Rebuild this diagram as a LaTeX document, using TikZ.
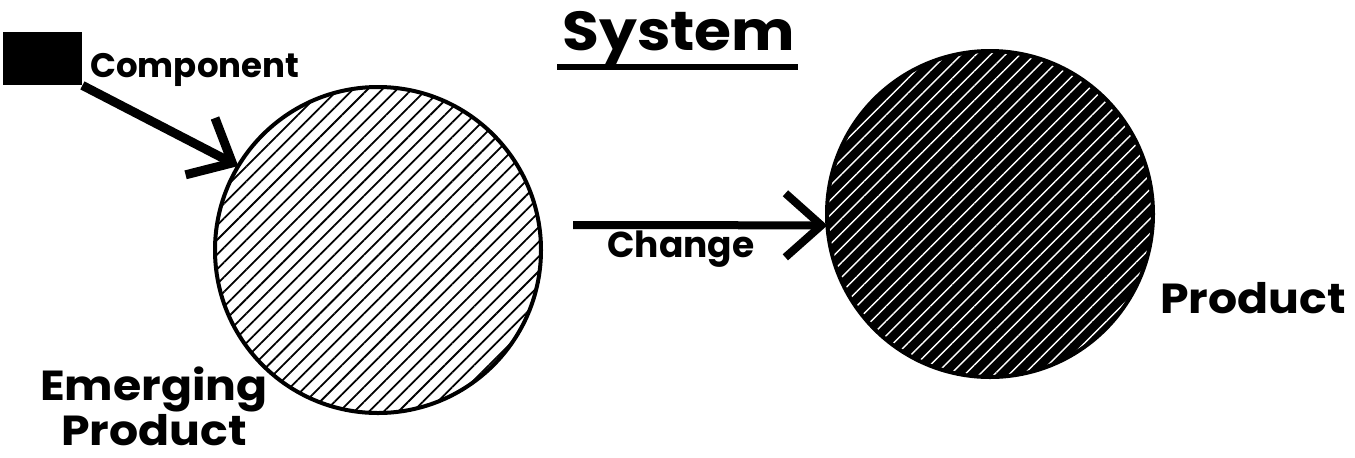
\documentclass[tikz,border=0pt]{standalone}
\usepackage{fontspec}
\setmainfont{Poppins}
\newfontfamily\widefont[FakeStretch=1.09]{Poppins}
\usetikzlibrary{arrows.meta}
\usetikzlibrary{patterns.meta}
\tikzset{>={Straight Barb[length=18pt,width=32pt]}}
\tikzset{
  hatchwhite/.style={circle, draw=black, line width=2pt, minimum size=163pt,
    inner sep=0pt, outer sep=0pt,
    pattern={Lines[angle=45,distance=5.2pt,line width=0.9pt]}, pattern color=black},
  hatchblack/.style={circle, draw=black, line width=2pt, minimum size=163pt,
    inner sep=0pt, outer sep=0pt, preaction={fill=black},
    pattern={Lines[angle=45,distance=5.2pt,line width=0.7pt]}, pattern color=white},
  label/.style={font=\bfseries, inner sep=0pt},
  biglabel/.style={inner sep=0pt, font=\widefont\bfseries\fontsize{21}{22.5}\selectfont},
  thickarrow/.style={->, line width=4pt}
}

\begin{document}
\begin{tikzpicture}[x=0.5pt,y=-0.5pt]
  \useasboundingbox (0,0) rectangle (1355,457);

  % 圆与方块
  \node[fill=black, minimum width=39.5pt, minimum height=26.5pt, inner sep=0pt] (box) at (42.5,58.5) {};
  \node[hatchwhite] (emerge) at (378,250) {};
  \node[hatchblack] (prod) at (990,214) {};
  \coordinate (chg) at (573,225);

  % 箭头
  \draw[thickarrow, line width=4.5pt] (box.south east) -- (emerge.149);
  \draw[thickarrow] (chg) -- (prod.184);

  % 标题
  \node[biglabel, anchor=base west, font=\widefont\bfseries\fontsize{27.5}{30}\selectfont] (sys) at (562,50) {System};
  \draw[line width=3pt] (557,67) -- (798,67);

  % 文字标签
  \node[label, anchor=base west, font=\bfseries\fontsize{17}{20}\selectfont] (comp) at (90,77) {Component};
  \node[label, anchor=base, font=\bfseries\fontsize{18}{21}\selectfont] (chglabel) at (681,257) {Change};
  \node[biglabel, anchor=base, align=center] (emlabel) at (154,445) {Emerging\\Product};
  \node[biglabel, anchor=base west] (prodlabel) at (1160,313) {Product};
\end{tikzpicture}
\end{document}
